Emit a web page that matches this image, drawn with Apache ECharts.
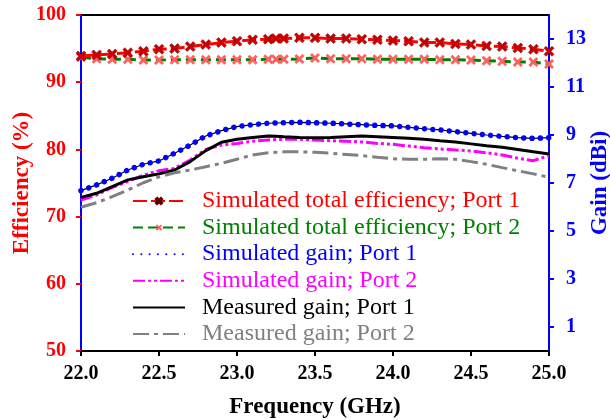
<!DOCTYPE html>
<html>
<head>
<meta charset="utf-8">
<script src="https://cdn.jsdelivr.net/npm/echarts@6/dist/echarts.min.js"></script>
<style>
  html, body { margin: 0; padding: 0; background: #fff; }
  #chart { width: 610px; height: 420px; }
</style>
</head>
<body>
<div id="chart"></div>
<script>
// frequency points (GHz)
var freq = [22.0, 22.1, 22.2, 22.3, 22.4, 22.5, 22.6, 22.7, 22.8, 22.9, 23.0, 23.1, 23.2, 23.25, 23.3,
  23.4, 23.5, 23.6, 23.7, 23.8, 23.9, 24.0, 24.1, 24.2, 24.3, 24.4, 24.5, 24.6, 24.7, 24.8, 24.9, 25.0]

// efficiency (%) - left axis
var effPort1 = [93.9, 94.05, 94.2, 94.4, 94.6, 94.9, 95.0, 95.3, 95.6, 95.9, 96.1, 96.3, 96.4, 96.5, 96.5,
  96.6, 96.6, 96.5, 96.5, 96.4, 96.3, 96.2, 96.1, 95.9, 95.9, 95.7, 95.6, 95.4, 95.3, 95.1, 94.9, 94.6]
var effPort2 = [93.7, 93.5, 93.4, 93.4, 93.3, 93.3, 93.35, 93.35, 93.35, 93.35, 93.35, 93.35, 93.4, 93.4, 93.4,
  93.45, 93.6, 93.5, 93.5, 93.5, 93.4, 93.4, 93.4, 93.4, 93.35, 93.35, 93.3, 93.2, 93.1, 93.0, 93.0, 92.7]

// gain (dBi) - right axis
var simGain1 = [6.68, 6.92, 7.2, 7.54, 7.78, 7.92, 8.24, 8.58, 8.96, 9.18, 9.35, 9.43, 9.49, 9.5, 9.51,
  9.53, 9.51, 9.49, 9.46, 9.43, 9.4, 9.38, 9.32, 9.26, 9.21, 9.14, 9.07, 9.0, 8.94, 8.89, 8.86, 8.89]
var simGain2 = [6.29, 6.5, 6.82, 7.06, 7.33, 7.51, 7.61, 7.96, 8.4, 8.58, 8.65, 8.74, 8.79, 8.81, 8.82,
  8.82, 8.79, 8.76, 8.74, 8.71, 8.65, 8.61, 8.54, 8.47, 8.42, 8.38, 8.33, 8.26, 8.17, 8.03, 7.93, 8.14]
var measGain1 = [6.4, 6.57, 6.85, 7.13, 7.26, 7.38, 7.54, 7.89, 8.35, 8.7, 8.82, 8.9, 8.96, 8.95, 8.93,
  8.9, 8.89, 8.9, 8.93, 8.96, 8.93, 8.9, 8.86, 8.82, 8.76, 8.71, 8.63, 8.55, 8.49, 8.4, 8.3, 8.21]
var measGain2 = [5.99, 6.18, 6.43, 6.71, 7.01, 7.26, 7.43, 7.54, 7.68, 7.82, 7.99, 8.17, 8.26, 8.28, 8.3,
  8.3, 8.28, 8.24, 8.19, 8.14, 8.07, 8.01, 7.99, 7.99, 8.01, 7.99, 7.89, 7.78, 7.64, 7.51, 7.38, 7.24]

var gainTicks = [1, 3, 5, 7, 9, 11, 13]

var names = [
  'Simulated total efficiency; Port 1',
  'Simulated total efficiency; Port 2',
  'Simulated gain; Port 1',
  'Simulated gain; Port 2',
  'Measured gain; Port 1',
  'Measured gain; Port 2'
]
var colors = ['#ff0000', '#008000', '#0000ff', '#ff00ff', '#000000', '#808080']

// filled "x" marker
var cross = 'path://M2,0L5,3L8,0L10,2L7,5L10,8L8,10L5,7L2,10L0,8L3,5L0,2Z'

function pairs(ys) {
  return freq.map(function (f, i) { return [f, ys[i]] })
}

var FONT = 'Liberation Serif'

var chart = echarts.init(document.getElementById('chart'))
chart.setOption({
  animation: false,
  backgroundColor: '#fff',
  grid: {
    left: 81, right: 61, top: 15, bottom: 69,
    outerBoundsMode: 'none',
    containLabel: false,
    show: true, borderColor: '#000', borderWidth: 2
  },
  legend: {
    orient: 'vertical',
    left: 132,
    top: 189,
    itemWidth: 52,
    itemHeight: 8,
    itemGap: 2.6,
    padding: 0,
    data: names.map(function (n, i) {
      var d = { name: n, textStyle: { color: colors[i] } }
      // gain curves show only their line in the legend
      if (i >= 2) d.itemStyle = { opacity: 0 }
      return d
    }),
    textStyle: { fontFamily: FONT, fontSize: 24, lineHeight: 24, padding: [0, 0, 0, 12] }
  },
  xAxis: {
    type: 'value',
    min: 22, max: 25, interval: 0.5,
    name: 'Frequency (GHz)',
    nameLocation: 'middle',
    nameGap: 45,
    nameMoveOverlap: false,
    nameTextStyle: { fontFamily: FONT, fontSize: 23, fontWeight: 'bold', color: '#000' },
    axisLine: { lineStyle: { color: '#000', width: 2 } },
    axisTick: { show: true, length: 5, lineStyle: { color: '#000', width: 2 } },
    axisLabel: {
      margin: 13,
      fontFamily: FONT, fontSize: 20, fontWeight: 'bold', color: '#000',
      formatter: function (v) { return v.toFixed(1) }
    },
    splitLine: { show: false }
  },
  yAxis: [
    {
      type: 'value',
      position: 'left',
      min: 50, max: 100, interval: 10,
      name: 'Efficiency (%)',
      nameLocation: 'middle',
      nameGap: 47,
      nameMoveOverlap: false,
      nameTextStyle: { fontFamily: FONT, fontSize: 23, fontWeight: 'bold', color: '#ff0000' },
      axisLine: { show: true, lineStyle: { color: '#0000ff', width: 2 } },
      axisTick: { show: true, length: 5, lineStyle: { color: '#ff0000', width: 2 } },
      axisLabel: { margin: 15, fontFamily: FONT, fontSize: 20, fontWeight: 'bold', color: '#ff0000' },
      splitLine: { show: false }
    },
    {
      type: 'value',
      position: 'right',
      min: 0, max: 14,
      name: 'Gain (dBi)',
      nameLocation: 'middle',
      nameGap: 40,
      nameMoveOverlap: false,
      nameTextStyle: { fontFamily: FONT, fontSize: 23, fontWeight: 'bold', color: '#0000ff' },
      axisLine: { show: true, lineStyle: { color: '#0000ff', width: 2 } },
      axisTick: { show: true, length: 5, customValues: gainTicks, lineStyle: { color: '#0000ff', width: 2 } },
      axisLabel: {
        margin: 17, customValues: gainTicks,
        fontFamily: FONT, fontSize: 20, fontWeight: 'bold', color: '#0000ff'
      },
      splitLine: { show: false }
    }
  ],
  series: [
    {
      name: names[0], type: 'line', yAxisIndex: 0,
      data: pairs(effPort1),
      symbol: cross, symbolSize: 10, showAllSymbol: true,
      itemStyle: { color: '#d00000', borderColor: '#600000', borderWidth: 0.5 },
      lineStyle: { color: '#ff0000', width: 3, type: [14, 4] },
      z: 5
    },
    {
      name: names[1], type: 'line', yAxisIndex: 0,
      data: pairs(effPort2),
      symbol: cross, symbolSize: 10, showAllSymbol: true,
      itemStyle: { color: '#ff6060' },
      lineStyle: { color: '#008000', width: 3, type: [10, 5] },
      z: 4
    },
    {
      // thin trace under the simulated gain dots
      name: 'trace', type: 'line', yAxisIndex: 1,
      data: pairs(simGain1),
      symbol: 'none', silent: true,
      lineStyle: { color: '#000', width: 1.2 }
    },
    {
      name: names[2], type: 'line', yAxisIndex: 1,
      data: pairs(simGain1),
      symbol: 'none',
      itemStyle: { color: '#0000ff' },
      lineStyle: { color: '#0000ff', width: 5.5, type: [0.01, 8.3], cap: 'round' },
      z: 3
    },
    {
      name: names[3], type: 'line', yAxisIndex: 1,
      data: pairs(simGain2),
      symbol: 'none',
      itemStyle: { color: '#ff00ff' },
      lineStyle: { color: '#ff00ff', width: 3, type: [12, 3, 3, 3, 3, 3] }
    },
    {
      name: names[4], type: 'line', yAxisIndex: 1,
      data: pairs(measGain1),
      symbol: 'none',
      itemStyle: { color: '#000' },
      lineStyle: { color: '#000', width: 3 }
    },
    {
      name: names[5], type: 'line', yAxisIndex: 1,
      data: pairs(measGain2),
      symbol: 'none',
      itemStyle: { color: '#808080' },
      lineStyle: { color: '#808080', width: 3, type: [16, 5, 4, 5] }
    }
  ]
})
</script>
</body>
</html>
